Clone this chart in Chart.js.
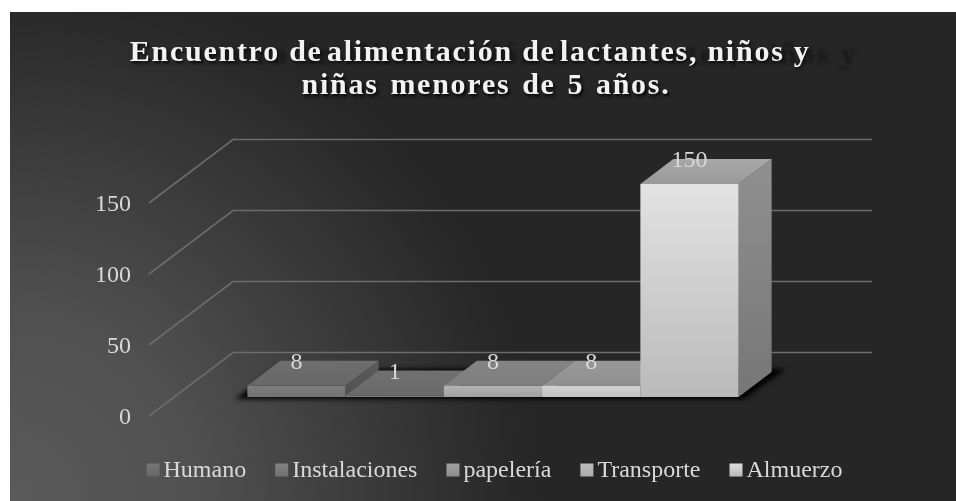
<!DOCTYPE html>
<html>
<head>
<meta charset="utf-8">
<style>html,body{margin:0;padding:0;background:#fff}canvas{display:block}</style>
<script src="https://cdn.jsdelivr.net/npm/chart.js@4"></script>
</head>
<body>
<canvas id="c" width="956" height="501"></canvas>
<script>
const categories = [''];
const seriesNames = ['Humano', 'Instalaciones', 'papelería', 'Transporte', 'Almuerzo'];
const seriesValues = [8, 1, 8, 8, 150];
const tickLabels = [0, 50, 100, 150];
const titleLines = ['Encuentro de\u200Aalimentación de\u200Alactantes, niños y\u2003', 'niñas\u2004menores\u2004de\u20045\u2004años.'];
const ghostLines = ['Encuentro de alimentación de lactantes, niños y', 'niñas\u2004menores\u2004de\u20045\u2004años.'];

const frontTop = ['#7c7c7c', '#868686', '#b4b4b4', '#d2d2d2', '#e2e2e2'];
const frontBot = ['#727272', '#787878', '#a0a0a0', '#c2c2c2', '#bababa'];
const topBack  = ['#6e6e6e', '#707070', '#848484', '#989898', '#a8a8a8'];
const topFront = ['#686868', '#6a6a6a', '#7e7e7e', '#909090', '#9a9a9a'];
const sideTop  = ['#5c5c5c', '#606060', '#787878', '#8c8c8c', '#909090'];
const sideBot  = ['#505050', '#585858', '#6c6c6c', '#808080', '#767676'];
const swatchTop = ['#767676', '#828282', '#a0a0a0', '#bcbcbc', '#dcdcdc'];
const swatchBot = ['#666666', '#727272', '#8e8e8e', '#acacac', '#bcbcbc'];

const FONT = "'Liberation Serif'";
const TEXT = '#d9d9d9';
const WALL = {dx: 84, dy: 63.5, right: 872};
const PLANE = {dx: 25, dy: 19};
const BAR = {dx: 33, dy: 25};
const PANEL = {x: 10, y: 12};

function poly(ctx, pts, fill) {
  ctx.beginPath();
  pts.forEach((p, i) => i ? ctx.lineTo(p[0], p[1]) : ctx.moveTo(p[0], p[1]));
  ctx.closePath();
  ctx.fillStyle = fill;
  ctx.fill();
}
function vgrad(ctx, y0, y1, a, b) {
  const g = ctx.createLinearGradient(0, y0, 0, y1);
  g.addColorStop(0, a);
  g.addColorStop(1, b);
  return g;
}

const scene = {
  id: 'scene',
  beforeDraw(chart) {
    const ctx = chart.ctx, W = chart.width, H = chart.height;
    const g = ctx.createRadialGradient(PANEL.x, H, 0, PANEL.x, H, 540);
    g.addColorStop(0, '#5a5a5a');
    g.addColorStop(0.35, '#505050');
    g.addColorStop(0.7, '#383838');
    g.addColorStop(0.95, '#272727');
    g.addColorStop(1, '#262626');
    ctx.fillStyle = g;
    ctx.fillRect(PANEL.x, PANEL.y, W - PANEL.x, H - PANEL.y);

    ctx.save();
    ctx.font = 'bold 30px ' + FONT;
    ctx.textBaseline = 'alphabetic';
    ctx.filter = 'blur(1.5px)';
    ctx.fillStyle = 'rgba(0,0,0,0.35)';
    ctx.letterSpacing = '2.5px';
    ctx.textAlign = 'left';
    ctx.fillText(ghostLines[0], 132, 64);
    ctx.letterSpacing = '1.75px';
    ctx.textAlign = 'center';
    ctx.fillText(ghostLines[1], 488, 97);
    ctx.restore();

    const tb = chart.titleBlock;
    if (tb && !tb._wrapped) {
      const d = tb.draw;
      tb.draw = function () {
        const c = this.ctx;
        c.save();
        c.letterSpacing = '1.75px';
        c.shadowColor = 'rgba(0,0,0,0.7)';
        c.shadowBlur = 3;
        c.shadowOffsetX = 1.5;
        c.shadowOffsetY = 1.5;
        c.translate(-8.5, 0);
        d.call(this);
        c.restore();
      };
      tb._wrapped = true;
    }
  },
  beforeDatasetsDraw(chart) {
    const ctx = chart.ctx, y = chart.scales.y, left = chart.chartArea.left;
    ctx.save();
    ctx.strokeStyle = '#6c6c6c';
    ctx.lineWidth = 1.6;
    tickLabels.forEach(v => {
      const p = y.getPixelForValue(v);
      ctx.beginPath();
      ctx.moveTo(left, p);
      ctx.lineTo(left + WALL.dx, p - WALL.dy);
      ctx.lineTo(WALL.right, p - WALL.dy);
      ctx.stroke();
    });
    ctx.restore();

    const metas = seriesValues.map((_, i) => chart.getDatasetMeta(i));
    const first = metas[0].data[0], last = metas[metas.length - 1].data[0];
    const x0 = first.x - first.width / 2 + PLANE.dx, x1 = last.x + last.width / 2 + PLANE.dx;
    const by = y.getPixelForValue(0) - PLANE.dy;

    ctx.save();
    ctx.filter = 'blur(2.5px)';
    poly(ctx, [[x0 - 12, by + 2], [x1 + 5, by + 2], [x1 + BAR.dx + 14, by - BAR.dy - 3], [x0 + BAR.dx - 6, by - BAR.dy - 3]], '#000');
    ctx.restore();

    ctx.save();
    ctx.translate(PLANE.dx, -PLANE.dy);
    metas.forEach((m, i) => {
      const el = m.data[0];
      const r = el.x + el.width / 2, l = el.x - el.width / 2, t = el.y, b = el.base;
      poly(ctx, [[r, t], [r + BAR.dx, t - BAR.dy], [r + BAR.dx, b - BAR.dy], [r, b]], vgrad(ctx, t - BAR.dy, b, sideTop[i], sideBot[i]));
      poly(ctx, [[l, t], [r, t], [r + BAR.dx, t - BAR.dy], [l + BAR.dx, t - BAR.dy]], vgrad(ctx, t - BAR.dy, t, topBack[i], topFront[i]));
      el.draw(ctx, chart.chartArea);
    });
    ctx.font = '24px ' + FONT;
    ctx.fillStyle = TEXT;
    ctx.textAlign = 'center';
    ctx.textBaseline = 'middle';
    metas.forEach((m, i) => {
      const el = m.data[0];
      ctx.fillText(String(seriesValues[i]), el.x, el.y - BAR.dy + 2);
    });
    ctx.restore();
    return false;
  },
  afterDraw(chart) {
    const ctx = chart.ctx;
    chart.legend.legendHitBoxes.forEach((h, i) => {
      const cy = Math.round(h.top + h.height / 2 - 0.5);
      ctx.fillStyle = vgrad(ctx, cy - 6.5, cy + 6.5, swatchTop[i], swatchBot[i]);
      ctx.fillRect(h.left, cy - 6.5, 13, 13);
    });
  }
};

new Chart(document.getElementById('c'), {
  type: 'bar',
  data: {
    labels: categories,
    datasets: seriesNames.map((name, i) => ({
      label: name,
      data: [seriesValues[i]],
      backgroundColor(c) {
        const a = c.chart.chartArea, s = c.chart.scales.y;
        if (!a || !s) return frontTop[i];
        const d = c.chart.ctx.createLinearGradient(0, s.getPixelForValue(seriesValues[i]), 0, s.getPixelForValue(0));
        d.addColorStop(0, frontTop[i]);
        d.addColorStop(1, frontBot[i]);
        return d;
      },
      borderWidth: 0,
      barPercentage: 1,
      categoryPercentage: 0.77
    }))
  },
  options: {
    responsive: false,
    animation: false,
    events: [],
    layout: {padding: {left: 33, right: 0, top: 12, bottom: 8.5}},
    scales: {
      x: {
        display: true,
        grid: {display: false},
        border: {display: false},
        ticks: {display: false},
        afterFit(s) { s.height = 13.5; }
      },
      y: {
        min: tickLabels[0],
        max: tickLabels[tickLabels.length - 1],
        grid: {display: false, drawTicks: false},
        border: {display: false},
        ticks: {
          stepSize: tickLabels[1] - tickLabels[0],
          color: TEXT,
          font: {family: FONT, size: 24},
          padding: 18,
          labelOffset: 2
        },
        afterFit(s) { s.width = 116; }
      },
      spacer: {
        position: 'right',
        display: true,
        grid: {display: false},
        border: {display: false},
        ticks: {display: false},
        afterFit(s) { s.width = 169; }
      }
    },
    plugins: {
      tooltip: {enabled: false},
      title: {
        display: true,
        text: titleLines,
        color: '#f2f2f2',
        font: {family: FONT, size: 30, weight: 'bold', lineHeight: 1.1},
        padding: {top: 25, bottom: 100}
      },
      legend: {
        display: true,
        position: 'bottom',
        labels: {
          color: TEXT,
          font: {family: FONT, size: 24},
          boxWidth: 5,
          boxHeight: 13,
          padding: 29,
          generateLabels(chart) {
            return seriesNames.map((name, i) => ({
              text: name,
              datasetIndex: i,
              fillStyle: 'rgba(0,0,0,0)',
              strokeStyle: 'rgba(0,0,0,0)',
              fontColor: TEXT,
              lineWidth: 0,
              hidden: false
            }));
          }
        }
      }
    }
  },
  plugins: [scene]
});
</script>
</body>
</html>
